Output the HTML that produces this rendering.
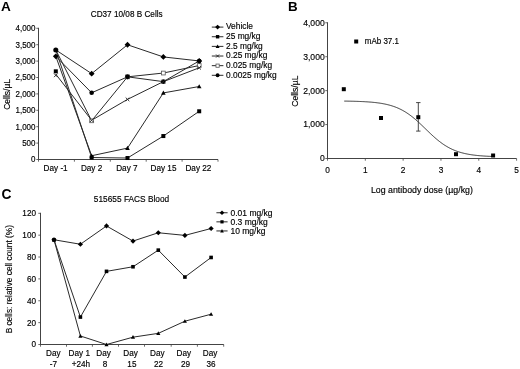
<!DOCTYPE html>
<html><head><meta charset="utf-8"><style>
html,body{margin:0;padding:0;background:#fff;}
body{width:520px;height:369px;overflow:hidden;}
svg{display:block;font-family:"Liberation Sans",sans-serif;filter:blur(0.4px);}
</style></head><body>
<svg width="520" height="369" viewBox="0 0 520 369">
<rect width="520" height="369" fill="#fff"/>
<text transform="translate(1.10,10.70) scale(1,1.0)" font-size="13.6" text-anchor="start" font-weight="bold" fill="#000" stroke="#000" stroke-width="0" >A</text>
<text transform="translate(287.90,10.60) scale(1,1.0)" font-size="13.4" text-anchor="start" font-weight="bold" fill="#000" stroke="#000" stroke-width="0" >B</text>
<text transform="translate(1.60,198.60) scale(1,1.0)" font-size="13.8" text-anchor="start" font-weight="bold" fill="#000" stroke="#000" stroke-width="0" >C</text>
<text transform="translate(126.70,17.10) scale(1,1.1)" font-size="8.2" text-anchor="middle" font-weight="normal" fill="#000" stroke="#000" stroke-width="0.15" >CD37 10/08 B Cells</text>
<line x1="38.50" y1="27.80" x2="38.50" y2="160.00" stroke="#444" stroke-width="1"/>
<line x1="38.00" y1="159.50" x2="218.00" y2="159.50" stroke="#444" stroke-width="1"/>
<line x1="36.30" y1="159.50" x2="38.50" y2="159.50" stroke="#444" stroke-width="0.8"/>
<text transform="translate(35.50,162.40) scale(1,1.1)" font-size="8.0" text-anchor="end" font-weight="normal" fill="#000" stroke="#000" stroke-width="0.15" >0</text>
<line x1="36.30" y1="143.10" x2="38.50" y2="143.10" stroke="#444" stroke-width="0.8"/>
<text transform="translate(35.50,146.00) scale(1,1.1)" font-size="8.0" text-anchor="end" font-weight="normal" fill="#000" stroke="#000" stroke-width="0.15" >500</text>
<line x1="36.30" y1="126.70" x2="38.50" y2="126.70" stroke="#444" stroke-width="0.8"/>
<text transform="translate(35.50,129.60) scale(1,1.1)" font-size="8.0" text-anchor="end" font-weight="normal" fill="#000" stroke="#000" stroke-width="0.15" >1,000</text>
<line x1="36.30" y1="110.30" x2="38.50" y2="110.30" stroke="#444" stroke-width="0.8"/>
<text transform="translate(35.50,113.20) scale(1,1.1)" font-size="8.0" text-anchor="end" font-weight="normal" fill="#000" stroke="#000" stroke-width="0.15" >1,500</text>
<line x1="36.30" y1="93.90" x2="38.50" y2="93.90" stroke="#444" stroke-width="0.8"/>
<text transform="translate(35.50,96.80) scale(1,1.1)" font-size="8.0" text-anchor="end" font-weight="normal" fill="#000" stroke="#000" stroke-width="0.15" >2,000</text>
<line x1="36.30" y1="77.50" x2="38.50" y2="77.50" stroke="#444" stroke-width="0.8"/>
<text transform="translate(35.50,80.40) scale(1,1.1)" font-size="8.0" text-anchor="end" font-weight="normal" fill="#000" stroke="#000" stroke-width="0.15" >2,500</text>
<line x1="36.30" y1="61.10" x2="38.50" y2="61.10" stroke="#444" stroke-width="0.8"/>
<text transform="translate(35.50,64.00) scale(1,1.1)" font-size="8.0" text-anchor="end" font-weight="normal" fill="#000" stroke="#000" stroke-width="0.15" >3,000</text>
<line x1="36.30" y1="44.70" x2="38.50" y2="44.70" stroke="#444" stroke-width="0.8"/>
<text transform="translate(35.50,47.60) scale(1,1.1)" font-size="8.0" text-anchor="end" font-weight="normal" fill="#000" stroke="#000" stroke-width="0.15" >3,500</text>
<line x1="36.30" y1="28.30" x2="38.50" y2="28.30" stroke="#444" stroke-width="0.8"/>
<text transform="translate(35.50,31.20) scale(1,1.1)" font-size="8.0" text-anchor="end" font-weight="normal" fill="#000" stroke="#000" stroke-width="0.15" >4,000</text>
<line x1="38.50" y1="159.50" x2="38.50" y2="161.70" stroke="#444" stroke-width="0.8"/>
<line x1="74.40" y1="159.50" x2="74.40" y2="161.70" stroke="#444" stroke-width="0.8"/>
<line x1="110.30" y1="159.50" x2="110.30" y2="161.70" stroke="#444" stroke-width="0.8"/>
<line x1="146.20" y1="159.50" x2="146.20" y2="161.70" stroke="#444" stroke-width="0.8"/>
<line x1="182.10" y1="159.50" x2="182.10" y2="161.70" stroke="#444" stroke-width="0.8"/>
<line x1="218.00" y1="159.50" x2="218.00" y2="161.70" stroke="#444" stroke-width="0.8"/>
<text transform="translate(55.60,170.50) scale(1,1.1)" font-size="8.2" text-anchor="middle" font-weight="normal" fill="#000" stroke="#000" stroke-width="0.15" >Day -1</text>
<text transform="translate(91.60,170.50) scale(1,1.1)" font-size="8.2" text-anchor="middle" font-weight="normal" fill="#000" stroke="#000" stroke-width="0.15" >Day 2</text>
<text transform="translate(126.90,170.50) scale(1,1.1)" font-size="8.2" text-anchor="middle" font-weight="normal" fill="#000" stroke="#000" stroke-width="0.15" >Day 7</text>
<text transform="translate(163.50,170.50) scale(1,1.1)" font-size="8.2" text-anchor="middle" font-weight="normal" fill="#000" stroke="#000" stroke-width="0.15" >Day 15</text>
<text transform="translate(198.40,170.50) scale(1,1.1)" font-size="8.2" text-anchor="middle" font-weight="normal" fill="#000" stroke="#000" stroke-width="0.15" >Day 22</text>
<text transform="translate(10.40,94.40) rotate(-90) scale(1.0,1)" font-size="8.5" text-anchor="middle" fill="#000" stroke="#000" stroke-width="0.15">Cells/µL</text>
<polyline points="55.80,49.95 91.65,73.63 127.50,44.77 163.35,56.93 199.20,60.94" fill="none" stroke="#2a2a2a" stroke-width="1.0" stroke-linejoin="miter"/>
<polyline points="55.80,49.95 91.65,157.53 127.50,158.02 163.35,136.05 199.20,111.28" fill="none" stroke="#2a2a2a" stroke-width="1.0" stroke-linejoin="miter"/>
<polyline points="55.80,56.34 91.65,155.73 127.50,148.12 163.35,92.92 199.20,86.52" fill="none" stroke="#2a2a2a" stroke-width="1.0" stroke-linejoin="miter"/>
<polyline points="55.80,74.22 91.65,120.27 127.50,99.38 163.35,81.63 199.20,67.82" fill="none" stroke="#2a2a2a" stroke-width="1.0" stroke-linejoin="miter"/>
<polyline points="55.80,49.95 91.65,120.80 127.50,76.84 163.35,73.04 199.20,65.53" fill="none" stroke="#2a2a2a" stroke-width="1.0" stroke-linejoin="miter"/>
<polyline points="55.80,56.34 91.65,92.82 127.50,76.84 163.35,81.63 199.20,60.94" fill="none" stroke="#2a2a2a" stroke-width="1.0" stroke-linejoin="miter"/>
<circle cx="91.65" cy="92.82" r="2.30" fill="#000"/>
<circle cx="127.50" cy="76.84" r="2.30" fill="#000"/>
<circle cx="163.35" cy="81.63" r="2.30" fill="#000"/>
<circle cx="199.20" cy="60.94" r="2.30" fill="#000"/>
<rect x="89.75" y="118.90" width="3.80" height="3.80" fill="#fff" stroke="#555" stroke-width="0.8"/>
<rect x="125.60" y="74.94" width="3.80" height="3.80" fill="#fff" stroke="#555" stroke-width="0.8"/>
<rect x="161.45" y="71.14" width="3.80" height="3.80" fill="#fff" stroke="#555" stroke-width="0.8"/>
<rect x="197.30" y="63.63" width="3.80" height="3.80" fill="#fff" stroke="#555" stroke-width="0.8"/>
<path d="M89.85,118.47L93.45,122.07M93.45,118.47L89.85,122.07" stroke="#222" stroke-width="0.9"/>
<path d="M125.70,97.58L129.30,101.18M129.30,97.58L125.70,101.18" stroke="#222" stroke-width="0.9"/>
<path d="M161.55,79.83L165.15,83.43M165.15,79.83L161.55,83.43" stroke="#222" stroke-width="0.9"/>
<path d="M197.40,66.02L201.00,69.62M201.00,66.02L197.40,69.62" stroke="#222" stroke-width="0.9"/>
<polygon points="91.65,153.43 93.95,157.57 89.35,157.57" fill="#000"/>
<polygon points="127.50,145.82 129.80,149.96 125.20,149.96" fill="#000"/>
<polygon points="163.35,90.62 165.65,94.76 161.05,94.76" fill="#000"/>
<polygon points="199.20,84.22 201.50,88.36 196.90,88.36" fill="#000"/>
<rect x="89.65" y="155.53" width="4.00" height="4.00" fill="#000"/>
<rect x="125.50" y="156.02" width="4.00" height="4.00" fill="#000"/>
<rect x="161.35" y="134.05" width="4.00" height="4.00" fill="#000"/>
<rect x="197.20" y="109.28" width="4.00" height="4.00" fill="#000"/>
<polygon points="91.65,70.73 94.55,73.63 91.65,76.53 88.75,73.63" fill="#000"/>
<polygon points="127.50,41.87 130.40,44.77 127.50,47.67 124.60,44.77" fill="#000"/>
<polygon points="163.35,54.03 166.25,56.93 163.35,59.83 160.45,56.93" fill="#000"/>
<polygon points="199.20,58.04 202.10,60.94 199.20,63.84 196.30,60.94" fill="#000"/>
<path d="M54.00,73.54L57.60,77.14M57.60,73.54L54.00,77.14" stroke="#222" stroke-width="0.9"/>
<rect x="53.80" y="69.33" width="4.00" height="4.00" fill="#000"/>
<polygon points="55.80,53.44 58.70,56.34 55.80,59.24 52.90,56.34" fill="#000"/>
<circle cx="55.80" cy="49.95" r="2.53" fill="#000"/>
<circle cx="127.50" cy="76.84" r="2.30" fill="#000"/>
<line x1="211.80" y1="27.10" x2="223.40" y2="27.10" stroke="#2a2a2a" stroke-width="1.0"/>
<polygon points="217.60,24.64 220.06,27.10 217.60,29.57 215.13,27.10" fill="#000"/>
<text transform="translate(226.00,29.45) scale(1,1.1)" font-size="8.38" text-anchor="start" font-weight="normal" fill="#000" stroke="#000" stroke-width="0.15" >Vehicle</text>
<line x1="211.80" y1="36.74" x2="223.40" y2="36.74" stroke="#2a2a2a" stroke-width="1.0"/>
<rect x="215.90" y="35.04" width="3.40" height="3.40" fill="#000"/>
<text transform="translate(226.00,39.09) scale(1,1.1)" font-size="8.38" text-anchor="start" font-weight="normal" fill="#000" stroke="#000" stroke-width="0.15" >25 mg/kg</text>
<line x1="211.80" y1="46.38" x2="223.40" y2="46.38" stroke="#2a2a2a" stroke-width="1.0"/>
<polygon points="217.60,44.43 219.56,47.94 215.64,47.94" fill="#000"/>
<text transform="translate(226.00,48.73) scale(1,1.1)" font-size="8.38" text-anchor="start" font-weight="normal" fill="#000" stroke="#000" stroke-width="0.15" >2.5 mg/kg</text>
<line x1="211.80" y1="56.02" x2="223.40" y2="56.02" stroke="#2a2a2a" stroke-width="1.0"/>
<path d="M216.07,54.49L219.13,57.55M219.13,54.49L216.07,57.55" stroke="#222" stroke-width="0.9"/>
<text transform="translate(226.00,58.37) scale(1,1.1)" font-size="8.38" text-anchor="start" font-weight="normal" fill="#000" stroke="#000" stroke-width="0.15" >0.25 mg/kg</text>
<line x1="211.80" y1="65.66" x2="223.40" y2="65.66" stroke="#2a2a2a" stroke-width="1.0"/>
<rect x="215.98" y="64.05" width="3.23" height="3.23" fill="#fff" stroke="#555" stroke-width="0.8"/>
<text transform="translate(226.00,68.01) scale(1,1.1)" font-size="8.38" text-anchor="start" font-weight="normal" fill="#000" stroke="#000" stroke-width="0.15" >0.025 mg/kg</text>
<line x1="211.80" y1="75.30" x2="223.40" y2="75.30" stroke="#2a2a2a" stroke-width="1.0"/>
<circle cx="217.60" cy="75.30" r="1.95" fill="#000"/>
<text transform="translate(226.00,77.65) scale(1,1.1)" font-size="8.38" text-anchor="start" font-weight="normal" fill="#000" stroke="#000" stroke-width="0.15" >0.0025 mg/kg</text>
<line x1="327.50" y1="22.28" x2="327.50" y2="159.00" stroke="#444" stroke-width="1"/>
<line x1="327.00" y1="158.50" x2="516.60" y2="158.50" stroke="#444" stroke-width="1"/>
<line x1="325.30" y1="158.50" x2="327.50" y2="158.50" stroke="#444" stroke-width="0.8"/>
<text transform="translate(324.70,161.40) scale(1,1.1)" font-size="8.6" text-anchor="end" font-weight="normal" fill="#000" stroke="#000" stroke-width="0.15" >0</text>
<line x1="325.30" y1="124.57" x2="327.50" y2="124.57" stroke="#444" stroke-width="0.8"/>
<text transform="translate(324.70,127.47) scale(1,1.1)" font-size="8.6" text-anchor="end" font-weight="normal" fill="#000" stroke="#000" stroke-width="0.15" >1,000</text>
<line x1="325.30" y1="90.64" x2="327.50" y2="90.64" stroke="#444" stroke-width="0.8"/>
<text transform="translate(324.70,93.54) scale(1,1.1)" font-size="8.6" text-anchor="end" font-weight="normal" fill="#000" stroke="#000" stroke-width="0.15" >2,000</text>
<line x1="325.30" y1="56.71" x2="327.50" y2="56.71" stroke="#444" stroke-width="0.8"/>
<text transform="translate(324.70,59.61) scale(1,1.1)" font-size="8.6" text-anchor="end" font-weight="normal" fill="#000" stroke="#000" stroke-width="0.15" >3,000</text>
<line x1="325.30" y1="22.78" x2="327.50" y2="22.78" stroke="#444" stroke-width="0.8"/>
<text transform="translate(324.70,25.68) scale(1,1.1)" font-size="8.6" text-anchor="end" font-weight="normal" fill="#000" stroke="#000" stroke-width="0.15" >4,000</text>
<line x1="327.50" y1="158.50" x2="327.50" y2="160.70" stroke="#444" stroke-width="0.8"/>
<text transform="translate(327.50,173.00) scale(1,1.1)" font-size="8.3" text-anchor="middle" font-weight="normal" fill="#000" stroke="#000" stroke-width="0.15" >0</text>
<line x1="365.32" y1="158.50" x2="365.32" y2="160.70" stroke="#444" stroke-width="0.8"/>
<text transform="translate(365.32,173.00) scale(1,1.1)" font-size="8.3" text-anchor="middle" font-weight="normal" fill="#000" stroke="#000" stroke-width="0.15" >1</text>
<line x1="403.14" y1="158.50" x2="403.14" y2="160.70" stroke="#444" stroke-width="0.8"/>
<text transform="translate(403.14,173.00) scale(1,1.1)" font-size="8.3" text-anchor="middle" font-weight="normal" fill="#000" stroke="#000" stroke-width="0.15" >2</text>
<line x1="440.96" y1="158.50" x2="440.96" y2="160.70" stroke="#444" stroke-width="0.8"/>
<text transform="translate(440.96,173.00) scale(1,1.1)" font-size="8.3" text-anchor="middle" font-weight="normal" fill="#000" stroke="#000" stroke-width="0.15" >3</text>
<line x1="478.78" y1="158.50" x2="478.78" y2="160.70" stroke="#444" stroke-width="0.8"/>
<text transform="translate(478.78,173.00) scale(1,1.1)" font-size="8.3" text-anchor="middle" font-weight="normal" fill="#000" stroke="#000" stroke-width="0.15" >4</text>
<line x1="516.60" y1="158.50" x2="516.60" y2="160.70" stroke="#444" stroke-width="0.8"/>
<text transform="translate(516.60,173.00) scale(1,1.1)" font-size="8.3" text-anchor="middle" font-weight="normal" fill="#000" stroke="#000" stroke-width="0.15" >5</text>
<text transform="translate(421.90,193.00) scale(1,1.1)" font-size="8.8" text-anchor="middle" font-weight="normal" fill="#000" stroke="#000" stroke-width="0.15" >Log antibody dose (µg/kg)</text>
<text transform="translate(297.80,91.20) rotate(-90) scale(1.0,1)" font-size="8.6" text-anchor="middle" fill="#000" stroke="#000" stroke-width="0.15">Cells/µL</text>
<polyline points="344.29,101.09 345.05,101.10 345.80,101.11 346.56,101.12 347.32,101.13 348.07,101.15 348.83,101.16 349.59,101.18 350.34,101.19 351.10,101.21 351.86,101.23 352.61,101.24 353.37,101.26 354.13,101.28 354.88,101.30 355.64,101.33 356.39,101.35 357.15,101.37 357.91,101.40 358.66,101.43 359.42,101.46 360.18,101.49 360.93,101.52 361.69,101.55 362.45,101.59 363.20,101.62 363.96,101.66 364.71,101.70 365.47,101.75 366.23,101.79 366.98,101.84 367.74,101.89 368.50,101.94 369.25,102.00 370.01,102.06 370.77,102.12 371.52,102.18 372.28,102.25 373.04,102.32 373.79,102.40 374.55,102.48 375.30,102.56 376.06,102.65 376.82,102.74 377.57,102.84 378.33,102.94 379.09,103.04 379.84,103.15 380.60,103.27 381.36,103.39 382.11,103.52 382.87,103.66 383.62,103.80 384.38,103.94 385.14,104.10 385.89,104.26 386.65,104.43 387.41,104.61 388.16,104.80 388.92,104.99 389.68,105.19 390.43,105.41 391.19,105.63 391.95,105.86 392.70,106.11 393.46,106.36 394.21,106.62 394.97,106.90 395.73,107.18 396.48,107.48 397.24,107.79 398.00,108.12 398.75,108.45 399.51,108.80 400.27,109.17 401.02,109.54 401.78,109.93 402.53,110.34 403.29,110.76 404.05,111.19 404.80,111.64 405.56,112.10 406.32,112.58 407.07,113.07 407.83,113.58 408.59,114.10 409.34,114.63 410.10,115.18 410.86,115.75 411.61,116.33 412.37,116.92 413.12,117.53 413.88,118.15 414.64,118.78 415.39,119.42 416.15,120.08 416.91,120.75 417.66,121.42 418.42,122.11 419.18,122.80 419.93,123.51 420.69,124.22 421.44,124.93 422.20,125.66 422.96,126.38 423.71,127.11 424.47,127.85 425.23,128.58 425.98,129.31 426.74,130.05 427.50,130.78 428.25,131.51 429.01,132.24 429.77,132.96 430.52,133.68 431.28,134.39 432.03,135.09 432.79,135.79 433.55,136.47 434.30,137.15 435.06,137.82 435.82,138.47 436.57,139.12 437.33,139.75 438.09,140.37 438.84,140.97 439.60,141.57 440.35,142.14 441.11,142.71 441.87,143.26 442.62,143.80 443.38,144.32 444.14,144.83 444.89,145.32 445.65,145.79 446.41,146.26 447.16,146.70 447.92,147.14 448.68,147.56 449.43,147.96 450.19,148.35 450.94,148.73 451.70,149.09 452.46,149.44 453.21,149.78 453.97,150.10 454.73,150.41 455.48,150.71 456.24,151.00 457.00,151.27 457.75,151.54 458.51,151.79 459.26,152.03 460.02,152.26 460.78,152.49 461.53,152.70 462.29,152.90 463.05,153.10 463.80,153.28 464.56,153.46 465.32,153.63 466.07,153.79 466.83,153.95 467.59,154.10 468.34,154.24 469.10,154.37 469.85,154.50 470.61,154.62 471.37,154.74 472.12,154.85 472.88,154.96 473.64,155.06 474.39,155.15 475.15,155.25 475.91,155.33 476.66,155.42 477.42,155.50 478.17,155.57 478.93,155.64 479.69,155.71 480.44,155.77 481.20,155.84 481.96,155.89 482.71,155.95 483.47,156.00 484.23,156.05 484.98,156.10 485.74,156.15 486.50,156.19 487.25,156.23 488.01,156.27 488.76,156.31 489.52,156.34 490.28,156.38 491.03,156.41 491.79,156.44 492.55,156.47 493.30,156.49" fill="none" stroke="#333" stroke-width="1"/>
<line x1="418.30" y1="102.60" x2="418.30" y2="131.10" stroke="#333" stroke-width="0.9"/>
<line x1="416.10" y1="102.60" x2="420.50" y2="102.60" stroke="#333" stroke-width="0.9"/>
<line x1="416.10" y1="131.10" x2="420.50" y2="131.10" stroke="#333" stroke-width="0.9"/>
<rect x="341.80" y="87.20" width="4.00" height="4.00" fill="#000"/>
<rect x="379.00" y="116.00" width="4.00" height="4.00" fill="#000"/>
<rect x="416.30" y="115.20" width="4.00" height="4.00" fill="#000"/>
<rect x="454.00" y="152.20" width="4.00" height="4.00" fill="#000"/>
<rect x="491.10" y="153.50" width="4.00" height="4.00" fill="#000"/>
<rect x="354.20" y="39.50" width="4.00" height="4.00" fill="#000"/>
<text transform="translate(364.80,44.40) scale(1,1.1)" font-size="8.0" text-anchor="start" font-weight="normal" fill="#000" stroke="#000" stroke-width="0.15" >mAb 37.1</text>
<text transform="translate(131.50,202.10) scale(1,1.1)" font-size="8.32" text-anchor="middle" font-weight="normal" fill="#000" stroke="#000" stroke-width="0.15" >515655 FACS Blood</text>
<line x1="40.50" y1="212.80" x2="40.50" y2="345.00" stroke="#444" stroke-width="1"/>
<line x1="40.00" y1="344.50" x2="223.80" y2="344.50" stroke="#444" stroke-width="1"/>
<line x1="38.30" y1="344.50" x2="40.50" y2="344.50" stroke="#444" stroke-width="0.8"/>
<text transform="translate(36.00,347.40) scale(1,1.1)" font-size="8.2" text-anchor="end" font-weight="normal" fill="#000" stroke="#000" stroke-width="0.15" >0</text>
<line x1="38.30" y1="322.63" x2="40.50" y2="322.63" stroke="#444" stroke-width="0.8"/>
<text transform="translate(36.00,325.53) scale(1,1.1)" font-size="8.2" text-anchor="end" font-weight="normal" fill="#000" stroke="#000" stroke-width="0.15" >20</text>
<line x1="38.30" y1="300.77" x2="40.50" y2="300.77" stroke="#444" stroke-width="0.8"/>
<text transform="translate(36.00,303.67) scale(1,1.1)" font-size="8.2" text-anchor="end" font-weight="normal" fill="#000" stroke="#000" stroke-width="0.15" >40</text>
<line x1="38.30" y1="278.90" x2="40.50" y2="278.90" stroke="#444" stroke-width="0.8"/>
<text transform="translate(36.00,281.80) scale(1,1.1)" font-size="8.2" text-anchor="end" font-weight="normal" fill="#000" stroke="#000" stroke-width="0.15" >60</text>
<line x1="38.30" y1="257.03" x2="40.50" y2="257.03" stroke="#444" stroke-width="0.8"/>
<text transform="translate(36.00,259.93) scale(1,1.1)" font-size="8.2" text-anchor="end" font-weight="normal" fill="#000" stroke="#000" stroke-width="0.15" >80</text>
<line x1="38.30" y1="235.17" x2="40.50" y2="235.17" stroke="#444" stroke-width="0.8"/>
<text transform="translate(36.00,238.07) scale(1,1.1)" font-size="8.2" text-anchor="end" font-weight="normal" fill="#000" stroke="#000" stroke-width="0.15" >100</text>
<line x1="38.30" y1="213.30" x2="40.50" y2="213.30" stroke="#444" stroke-width="0.8"/>
<text transform="translate(36.00,216.20) scale(1,1.1)" font-size="8.2" text-anchor="end" font-weight="normal" fill="#000" stroke="#000" stroke-width="0.15" >120</text>
<line x1="40.50" y1="344.50" x2="40.50" y2="346.70" stroke="#444" stroke-width="0.8"/>
<line x1="66.50" y1="344.50" x2="66.50" y2="346.70" stroke="#444" stroke-width="0.8"/>
<line x1="92.40" y1="344.50" x2="92.40" y2="346.70" stroke="#444" stroke-width="0.8"/>
<line x1="118.50" y1="344.50" x2="118.50" y2="346.70" stroke="#444" stroke-width="0.8"/>
<line x1="144.50" y1="344.50" x2="144.50" y2="346.70" stroke="#444" stroke-width="0.8"/>
<line x1="171.20" y1="344.50" x2="171.20" y2="346.70" stroke="#444" stroke-width="0.8"/>
<line x1="197.40" y1="344.50" x2="197.40" y2="346.70" stroke="#444" stroke-width="0.8"/>
<line x1="223.70" y1="344.50" x2="223.70" y2="346.70" stroke="#444" stroke-width="0.8"/>
<text transform="translate(53.30,356.30) scale(1,1.1)" font-size="8.2" text-anchor="middle" font-weight="normal" fill="#000" stroke="#000" stroke-width="0.15" >Day</text>
<text transform="translate(53.30,367.00) scale(1,1.1)" font-size="8.2" text-anchor="middle" font-weight="normal" fill="#000" stroke="#000" stroke-width="0.15" >-7</text>
<text transform="translate(79.30,356.30) scale(1,1.1)" font-size="8.2" text-anchor="middle" font-weight="normal" fill="#000" stroke="#000" stroke-width="0.15" >Day 1</text>
<text transform="translate(80.90,367.00) scale(1,1.1)" font-size="8.2" text-anchor="middle" font-weight="normal" fill="#000" stroke="#000" stroke-width="0.15" >+24h</text>
<text transform="translate(103.60,356.30) scale(1,1.1)" font-size="8.2" text-anchor="middle" font-weight="normal" fill="#000" stroke="#000" stroke-width="0.15" >Day</text>
<text transform="translate(104.90,367.00) scale(1,1.1)" font-size="8.2" text-anchor="middle" font-weight="normal" fill="#000" stroke="#000" stroke-width="0.15" >8</text>
<text transform="translate(130.60,356.30) scale(1,1.1)" font-size="8.2" text-anchor="middle" font-weight="normal" fill="#000" stroke="#000" stroke-width="0.15" >Day</text>
<text transform="translate(131.90,367.00) scale(1,1.1)" font-size="8.2" text-anchor="middle" font-weight="normal" fill="#000" stroke="#000" stroke-width="0.15" >15</text>
<text transform="translate(157.30,356.30) scale(1,1.1)" font-size="8.2" text-anchor="middle" font-weight="normal" fill="#000" stroke="#000" stroke-width="0.15" >Day</text>
<text transform="translate(158.50,367.00) scale(1,1.1)" font-size="8.2" text-anchor="middle" font-weight="normal" fill="#000" stroke="#000" stroke-width="0.15" >22</text>
<text transform="translate(183.90,356.30) scale(1,1.1)" font-size="8.2" text-anchor="middle" font-weight="normal" fill="#000" stroke="#000" stroke-width="0.15" >Day</text>
<text transform="translate(185.60,367.00) scale(1,1.1)" font-size="8.2" text-anchor="middle" font-weight="normal" fill="#000" stroke="#000" stroke-width="0.15" >29</text>
<text transform="translate(210.00,356.30) scale(1,1.1)" font-size="8.2" text-anchor="middle" font-weight="normal" fill="#000" stroke="#000" stroke-width="0.15" >Day</text>
<text transform="translate(211.10,367.00) scale(1,1.1)" font-size="8.2" text-anchor="middle" font-weight="normal" fill="#000" stroke="#000" stroke-width="0.15" >36</text>
<text transform="translate(12.00,279.20) rotate(-90) scale(1.0,1)" font-size="8.3" text-anchor="middle" fill="#000" stroke="#000" stroke-width="0.15">B cells: relative cell count (%)</text>
<polyline points="54.00,239.76 80.40,244.24 106.50,225.98 133.00,241.07 158.30,232.76 184.90,235.39 211.10,228.50" fill="none" stroke="#2a2a2a" stroke-width="1.0" stroke-linejoin="miter"/>
<polyline points="54.00,239.76 80.40,317.06 106.50,271.36 133.00,266.76 158.30,250.15 184.90,277.04 211.10,257.47" fill="none" stroke="#2a2a2a" stroke-width="1.0" stroke-linejoin="miter"/>
<polyline points="54.00,239.76 80.40,335.97 106.50,344.50 133.00,337.17 158.30,333.35 184.90,321.21 211.10,314.21" fill="none" stroke="#2a2a2a" stroke-width="1.0" stroke-linejoin="miter"/>
<polygon points="54.00,237.15 56.61,239.76 54.00,242.37 51.39,239.76" fill="#000"/>
<polygon points="80.40,241.63 83.01,244.24 80.40,246.85 77.79,244.24" fill="#000"/>
<polygon points="106.50,223.37 109.11,225.98 106.50,228.59 103.89,225.98" fill="#000"/>
<polygon points="133.00,238.46 135.61,241.07 133.00,243.68 130.39,241.07" fill="#000"/>
<polygon points="158.30,230.15 160.91,232.76 158.30,235.37 155.69,232.76" fill="#000"/>
<polygon points="184.90,232.78 187.51,235.39 184.90,238.00 182.29,235.39" fill="#000"/>
<polygon points="211.10,225.89 213.71,228.50 211.10,231.11 208.49,228.50" fill="#000"/>
<rect x="52.20" y="237.96" width="3.60" height="3.60" fill="#000"/>
<rect x="78.60" y="315.26" width="3.60" height="3.60" fill="#000"/>
<rect x="104.70" y="269.56" width="3.60" height="3.60" fill="#000"/>
<rect x="131.20" y="264.96" width="3.60" height="3.60" fill="#000"/>
<rect x="156.50" y="248.35" width="3.60" height="3.60" fill="#000"/>
<rect x="183.10" y="275.24" width="3.60" height="3.60" fill="#000"/>
<rect x="209.30" y="255.67" width="3.60" height="3.60" fill="#000"/>
<polygon points="54.00,237.69 56.07,241.41 51.93,241.41" fill="#000"/>
<polygon points="80.40,333.90 82.47,337.63 78.33,337.63" fill="#000"/>
<polygon points="106.50,342.43 108.57,346.16 104.43,346.16" fill="#000"/>
<polygon points="133.00,335.10 135.07,338.83 130.93,338.83" fill="#000"/>
<polygon points="158.30,331.28 160.37,335.00 156.23,335.00" fill="#000"/>
<polygon points="184.90,319.14 186.97,322.87 182.83,322.87" fill="#000"/>
<polygon points="211.10,312.14 213.17,315.87 209.03,315.87" fill="#000"/>
<line x1="216.40" y1="212.75" x2="227.60" y2="212.75" stroke="#2a2a2a" stroke-width="1.0"/>
<polygon points="222.00,210.43 224.32,212.75 222.00,215.07 219.68,212.75" fill="#000"/>
<text transform="translate(230.50,215.65) scale(1,1.1)" font-size="8.5" text-anchor="start" font-weight="normal" fill="#000" stroke="#000" stroke-width="0.15" >0.01 mg/kg</text>
<line x1="216.40" y1="221.85" x2="227.60" y2="221.85" stroke="#2a2a2a" stroke-width="1.0"/>
<rect x="220.40" y="220.25" width="3.20" height="3.20" fill="#000"/>
<text transform="translate(230.50,224.75) scale(1,1.1)" font-size="8.5" text-anchor="start" font-weight="normal" fill="#000" stroke="#000" stroke-width="0.15" >0.3 mg/kg</text>
<line x1="216.40" y1="230.95" x2="227.60" y2="230.95" stroke="#2a2a2a" stroke-width="1.0"/>
<polygon points="222.00,229.11 223.84,232.42 220.16,232.42" fill="#000"/>
<text transform="translate(230.50,233.85) scale(1,1.1)" font-size="8.5" text-anchor="start" font-weight="normal" fill="#000" stroke="#000" stroke-width="0.15" >10 mg/kg</text>
</svg>
</body></html>
